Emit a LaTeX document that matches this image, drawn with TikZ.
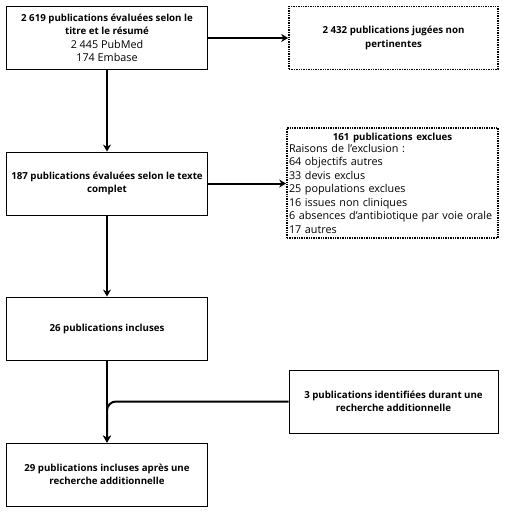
\documentclass[tikz,border=0pt]{standalone}
\usepackage{fontspec}
\setmainfont{Open Sans}
\usetikzlibrary{arrows.meta,positioning}
\tikzset{
  boite/.style={draw,line width=0.9pt,minimum width=201pt,minimum height=63pt,align=center,font=\bfseries\fontsize{9.7}{13.5}\selectfont,inner sep=2pt},
  pointil/.style={draw,line width=1.7pt,dash pattern=on 1.4pt off 1pt,minimum width=209pt,minimum height=63pt,align=center,font=\bfseries\fontsize{9.7}{13.5}\selectfont,inner sep=2pt},
  fleche/.style={line width=2pt,-{Stealth[length=7pt,width=8pt]}},
}
\newcommand{\reg}{\normalfont\fontsize{10.8}{14}\selectfont}

\begin{document}
\begin{tikzpicture}[x=1pt,y=-1pt]
  \useasboundingbox (0,0) rectangle (505,513);
  \node[boite] (titre) at (107,38) {2~619 publications évaluées selon le\\ titre et le résumé\\ {\reg 2~445 PubMed}\\ {\reg 174 Embase}};
  \node[pointil] (nonpert) at (393.5,38) {2~432 publications jugées non\\ pertinentes};
  \node[boite] (texte) at (107,183.5) {187 publications évaluées selon le texte\\ complet};
  \node[pointil,minimum width=211pt,minimum height=110pt,text width=207pt,inner sep=1.5pt,align=left,font=\fontsize{10.8}{13.5}\selectfont] (exclues) at (392.5,183)
    {\centering\bfseries\fontsize{9.7}{13.5}\selectfont 161 publications exclues\par\vspace{-1.5pt}\raggedright\mdseries\fontsize{10.8}{13.5}\selectfont
     Raisons de l’exclusion :\\ 64 objectifs autres\\ 33 devis exclus\\ 25 populations exclues\\
     16 issues non cliniques\\ 6 absences d’antibiotique par voie orale\\ 17 autres};
  \node[boite] (incluses) at (107,328.5) {26 publications incluses};
  \node[boite,minimum width=209pt] (additionnel) at (393.5,401.5) {3 publications identifiées durant une\\ recherche additionnelle};
  \node[boite] (final) at (107,474.5) {29 publications incluses après une\\ recherche additionnelle};
  % fleches
  \draw[fleche] (titre) -- (nonpert);
  \draw[fleche] (titre) -- (texte);
  \draw[fleche] (texte) -- (texte.east -| exclues.west);
  \draw[fleche] (texte) -- (incluses);
  \draw[fleche] (incluses) -- (final);
  \draw[fleche,rounded corners=9pt] (additionnel.west) -| (final.north);
\end{tikzpicture}
\end{document}
